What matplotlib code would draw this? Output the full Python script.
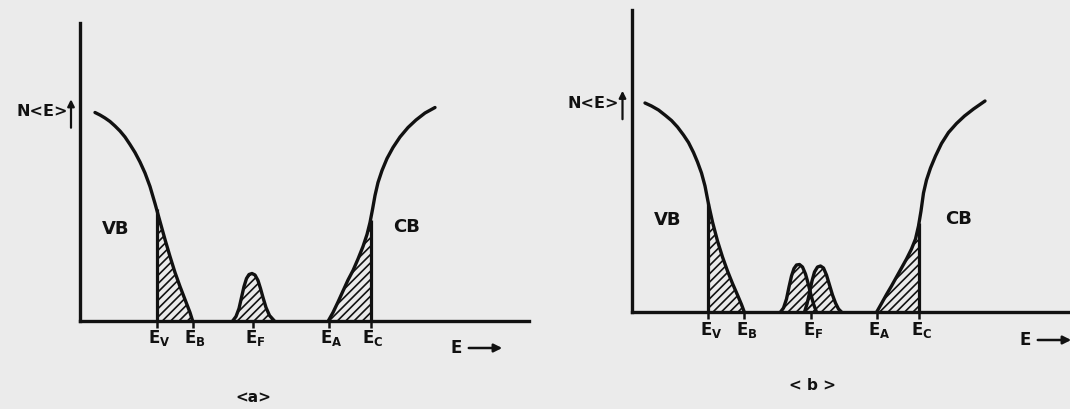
import numpy as np
import matplotlib.pyplot as plt

plt.rcParams['font.family'] = ['DejaVu Sans']
plt.rcParams['font.weight'] = 'bold'
plt.rcParams['mathtext.fontset'] = 'dejavusans'
plt.rcParams['mathtext.default'] = 'bf'
plt.rcParams['hatch.linewidth'] = 1.2

INK = '#111111'
BG = '#ebebeb'

# band edges (arbitrary energy units)
edge_names = ['$E_V$', '$E_B$', '$E_F$', '$E_A$', '$E_C$']
edges_a = [7.65, 11.25, 17.25, 24.85, 29.05]
edges_b = [7.68, 11.28, 17.92, 24.52, 28.75]

# density of states N(E), panel (a)
vb_a_x = [1.5, 2.0, 2.5, 3.0, 3.5, 4.0, 4.5, 5.0, 5.5, 6.0, 6.5, 7.0, 7.5,
          8.0, 8.5, 9.0, 9.5, 10.0, 10.5, 11.0, 11.25]
vb_a_y = [20.8, 20.55, 20.25, 19.9, 19.45, 18.95, 18.35, 17.6, 16.8, 15.85, 14.75, 13.4, 11.7,
          9.9, 8.1, 6.4, 4.8, 3.4, 2.1, 0.8, 0.0]
cb_a_x = [24.85, 25.3, 25.8, 26.3, 26.8, 27.3, 27.8, 28.3, 28.7, 29.0, 29.25, 29.5, 29.8,
          30.2, 30.7, 31.3, 32.0, 32.8, 33.6, 34.5, 35.5]
cb_a_y = [0.0, 0.8, 1.85, 2.95, 4.05, 5.0, 6.15, 7.4, 8.6, 9.8, 11.1, 12.5, 13.8,
          15.0, 16.2, 17.3, 18.35, 19.3, 20.05, 20.75, 21.3]
gap_a_x = [15.3, 15.6, 15.9, 16.15, 16.4, 16.65, 16.9, 17.2, 17.5, 17.8, 18.05, 18.3, 18.6, 18.95, 19.4]
gap_a_y = [0.0, 0.4, 1.2, 2.3, 3.4, 4.2, 4.6, 4.7, 4.55, 4.0, 3.2, 2.3, 1.3, 0.5, 0.0]

# panel (b)
vb_b_x = [1.35, 2.0, 2.7, 3.4, 4.0, 4.6, 5.2, 5.7, 6.2, 6.6, 7.0, 7.35, 7.7,
          8.1, 8.6, 9.1, 9.6, 10.1, 10.6, 11.0, 11.28]
vb_b_y = [20.9, 20.6, 20.2, 19.65, 19.15, 18.5, 17.7, 16.95, 15.95, 15.0, 13.9, 12.6, 10.8,
          9.0, 7.1, 5.5, 4.1, 2.85, 1.7, 0.75, 0.0]
cb_b_x = [24.52, 25.0, 25.5, 26.0, 26.5, 27.0, 27.5, 28.0, 28.4, 28.7, 28.95, 29.2, 29.5,
          29.9, 30.4, 31.0, 31.7, 32.5, 33.3, 34.2, 35.35]
cb_b_y = [0.0, 0.85, 1.75, 2.6, 3.5, 4.4, 5.3, 6.3, 7.3, 8.6, 10.1, 11.9, 13.2,
          14.4, 15.6, 16.85, 17.95, 18.85, 19.6, 20.3, 21.1]
gap_b1_x = [14.9, 15.2, 15.5, 15.75, 16.0, 16.25, 16.5, 16.8, 17.1, 17.4, 17.65, 17.9, 18.2, 18.5]
gap_b1_y = [0.0, 0.4, 1.3, 2.5, 3.6, 4.35, 4.7, 4.75, 4.5, 3.8, 2.9, 1.9, 0.8, 0.0]
gap_b2_x = [17.3, 17.55, 17.8, 18.05, 18.3, 18.6, 18.9, 19.2, 19.5, 19.8, 20.1, 20.4, 20.7, 21.0]
gap_b2_y = [0.0, 0.8, 1.9, 3.1, 4.0, 4.5, 4.6, 4.4, 3.7, 2.7, 1.7, 0.9, 0.3, 0.0]


def shade(ax, x, y):
    ax.fill_between(x, y, 0, facecolor='none', edgecolor=INK, hatch='////', linewidth=0)


def panel(ax, edges, vb_x, vb_y, cb_x, cb_y, gaps, xmax, ymax, lbl):
    ax.set_xlim(0, xmax)
    ax.set_ylim(0, ymax)
    ax.set_facecolor('none')
    for s in ['top', 'right']:
        ax.spines[s].set_visible(False)
    for s in ['left', 'bottom']:
        ax.spines[s].set_linewidth(2.4)
        ax.spines[s].set_color(INK)
    ax.set_yticks([])
    ax.set_xticks(edges)
    ax.set_xticklabels([])
    ax.tick_params(axis='x', direction='out', length=5, width=1.8, color=INK)

    ev, eb, ef, ea, ec = edges
    vb_x = np.array(vb_x); vb_y = np.array(vb_y)
    cb_x = np.array(cb_x); cb_y = np.array(cb_y)

    ax.plot(vb_x, vb_y, color=INK, lw=2.4, solid_capstyle='round', solid_joinstyle='round')
    ax.plot(cb_x, cb_y, color=INK, lw=2.4, solid_capstyle='round', solid_joinstyle='round')

    # band tails below E_V and above E_C are shaded
    y_ev = np.interp(ev, vb_x, vb_y)
    m = vb_x > ev
    shade(ax, np.r_[ev, vb_x[m]], np.r_[y_ev, vb_y[m]])
    ax.vlines(ev, 0, y_ev, color=INK, lw=2.3)
    y_ec = np.interp(ec, cb_x, cb_y)
    m = cb_x < ec
    shade(ax, np.r_[cb_x[m], ec], np.r_[cb_y[m], y_ec])
    ax.vlines(ec, 0, y_ec, color=INK, lw=2.3)

    # localized states in the gap
    for gx, gy in gaps:
        shade(ax, gx, gy)
        ax.plot(gx, gy, color=INK, lw=2.4, solid_joinstyle='round')

    for e, name in zip(edges, edge_names):
        ax.text(e + 0.25, -0.75, name, ha='center', va='top', fontsize=12, color=INK)

    ax.text(3.6, 9.2, 'VB', ha='center', va='center', fontsize=13, color=INK)
    ax.text(32.7, 9.3, 'CB', ha='center', va='center', fontsize=13, color=INK)

    ax.text(lbl[0], lbl[1], 'E', ha='center', va='center', fontsize=12, color=INK)
    ax.annotate('', xy=(lbl[0] + 4.9, lbl[1]), xytext=(lbl[0] + 1.0, lbl[1]),
                arrowprops=dict(arrowstyle='-|>', color=INK, lw=1.8, mutation_scale=12),
                annotation_clip=False)

    ax.text(-1.25, 20.9, 'N<E>', ha='right', va='center', fontsize=11.5, color=INK)
    ax.annotate('', xy=(-0.9, 22.4), xytext=(-0.9, 19.0),
                arrowprops=dict(arrowstyle='-|>', color=INK, lw=1.6, mutation_scale=10),
                annotation_clip=False)


W, H = 1070, 409
fig = plt.figure(figsize=(W / 100, H / 100), dpi=100, facecolor=BG)

ax1 = fig.add_axes([80 / W, (H - 320.5) / H, 449 / W, 297.5 / H])
panel(ax1, edges_a, vb_a_x, vb_a_y, cb_a_x, cb_a_y,
      [(gap_a_x, gap_a_y)], 44.9, 29.75, (37.6, -2.75))

ax2 = fig.add_axes([631.5 / W, (H - 312) / H, 438.5 / W, 302 / H])
panel(ax2, edges_b, vb_b_x, vb_b_y, cb_b_x, cb_b_y,
      [(gap_b1_x, gap_b1_y), (gap_b2_x, gap_b2_y)], 43.85, 30.2, (39.35, -2.8))

fig.text(253 / W, 1 - 398 / H, '<a>', ha='center', va='center', fontsize=11, color=INK)
fig.text(812 / W, 1 - 386 / H, '< b >', ha='center', va='center', fontsize=11, color=INK)

fig.savefig('out.png', dpi=100, facecolor=BG)
